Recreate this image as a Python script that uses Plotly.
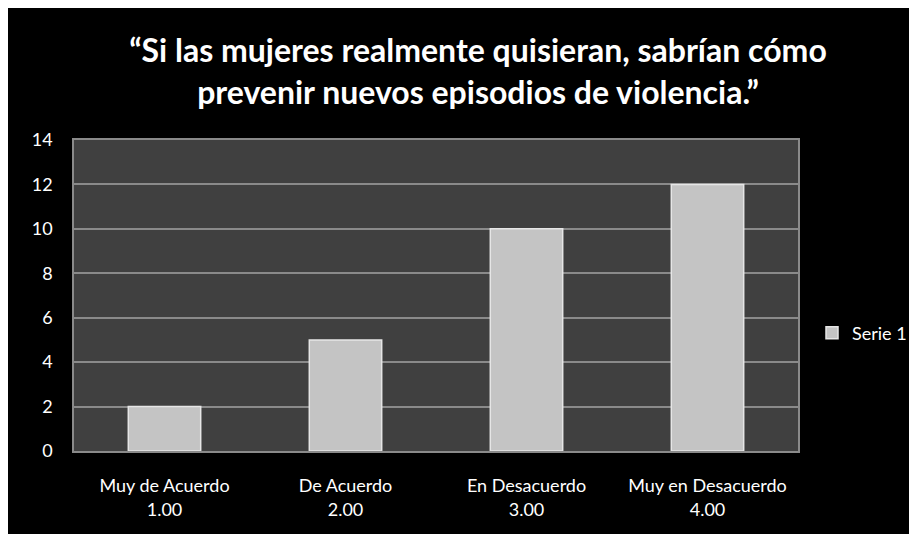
import plotly.graph_objects as go

categories = ["Muy de Acuerdo<br>1.00", "De Acuerdo<br>2.00", "En Desacuerdo<br>3.00", "Muy en Desacuerdo<br>4.00"]
serie_1 = [2, 5, 10, 12]
y_ticks = [0, 2, 4, 6, 8, 10, 12, 14]

title = "“Si las mujeres realmente quisieran, sabrían cómo<br>prevenir nuevos episodios de violencia.”"

font_family = "Lato, Open Sans, sans-serif"

fig = go.Figure()
fig.add_trace(
    go.Bar(
        x=categories,
        y=serie_1,
        name="Serie 1",
        marker=dict(color="#c4c4c4", line=dict(color="#e6e6e6", width=1.5)),
        width=0.4,
    )
)

# page has an 8px body margin; figure coords = page coords - 8
W, H = 909, 526
ml, mr, mt, mb = 66, 119, 132, 83
pw = W - ml - mr
ph = H - mt - mb

fig.update_layout(
    width=W,
    height=H,
    margin=dict(l=ml, r=mr, t=mt, b=mb, autoexpand=False),
    paper_bgcolor="black",
    plot_bgcolor="#404040",
    font=dict(family=font_family, color="white", size=18),
    title=dict(
        text=title,
        x=(470 - ml) / pw,
        xref="paper",
        xanchor="center",
        y=1 - 54 / H,
        yanchor="middle",
        font=dict(size=32, color="white", family=font_family, weight="bold"),
    ),
    showlegend=True,
    legend=dict(
        x=(804 - ml) / pw,
        y=(443 - 325) / ph,
        xanchor="left",
        yanchor="middle",
        bgcolor="rgba(0,0,0,0)",
        font=dict(size=18, color="white"),
    ),
    shapes=[
        dict(
            type="rect", xref="paper", yref="paper", layer="below",
            x0=0, x1=1, y0=0, y1=1,
            fillcolor="#404040", line=dict(width=0),
        ),
    ],
)

fig.update_yaxes(
    range=[0, 14],
    tickvals=y_ticks,
    showgrid=True,
    gridcolor="#8a8a8a",
    gridwidth=1.5,
    zeroline=False,
    showline=True,
    linecolor="#8a8a8a",
    linewidth=1.5,
    mirror=True,
    ticks="",
    ticklabelstandoff=16,
    tickfont=dict(size=18, color="white"),
)
fig.update_xaxes(
    showgrid=False,
    showline=True,
    linecolor="#8a8a8a",
    linewidth=1.5,
    mirror=True,
    ticks="",
    ticklabelstandoff=18,
    tickfont=dict(size=18, color="white"),
)

fig.write_html("out.html")
